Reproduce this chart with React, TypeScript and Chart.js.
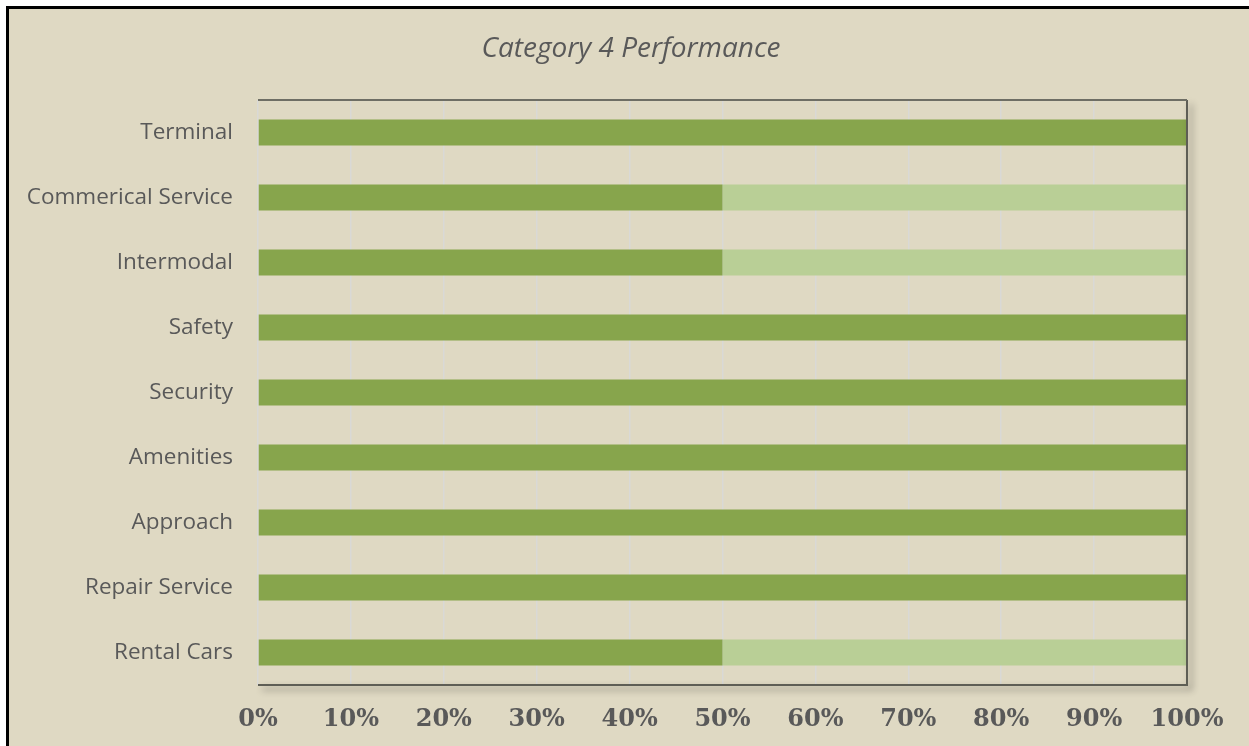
import React, { useEffect, useRef } from "react";
import { Chart, registerables } from "chart.js";
Chart.register(...registerables);

const categories = [
  "Terminal",
  "Commerical Service",
  "Intermodal",
  "Safety",
  "Security",
  "Amenities",
  "Approach",
  "Repair Service",
  "Rental Cars",
];
const metValues = [100, 50, 50, 100, 100, 100, 100, 100, 50];
const remainingValues = [0, 50, 50, 0, 0, 0, 0, 0, 50];
const titleText = "Category 4 Performance";

const W = 1249;
const H = 746;
const BG = "#dfd9c3";
const TEXT = "#595959";

export default function App() {
  const ref = useRef<HTMLCanvasElement | null>(null);
  useEffect(() => {
    if (!ref.current) return;
    const framePlugin = {
      id: "frame",
      beforeDraw(chart: any) {
        const ctx = chart.ctx;
        ctx.save();
        ctx.fillStyle = "#ffffff";
        ctx.fillRect(0, 0, W, H);
        ctx.fillStyle = BG;
        ctx.fillRect(8, 8, W, H);
        ctx.strokeStyle = "#000000";
        ctx.lineWidth = 3;
        ctx.strokeRect(7.5, 7.5, W + 20, H + 20);
        ctx.restore();
      },
      afterDatasetsDraw(chart: any) {
        const ctx = chart.ctx;
        const a = chart.chartArea;
        ctx.save();
        ctx.strokeStyle = "#5e5e55";
        ctx.lineWidth = 2;
        ctx.shadowColor = "rgba(0,0,0,0.45)";
        ctx.shadowBlur = 7;
        ctx.shadowOffsetX = 4;
        ctx.shadowOffsetY = 4;
        ctx.beginPath();
        ctx.moveTo(a.right, a.top);
        ctx.lineTo(a.right, a.bottom);
        ctx.lineTo(a.left, a.bottom);
        ctx.stroke();
        ctx.shadowColor = "transparent";
        ctx.strokeStyle = "#6e6e64";
        ctx.beginPath();
        ctx.moveTo(a.left, a.top);
        ctx.lineTo(a.right, a.top);
        ctx.stroke();
        ctx.restore();
      },
      afterDraw(chart: any) {
        const ctx = chart.ctx;
        ctx.save();
        ctx.fillStyle = TEXT;
        ctx.font = "italic 28px 'Open Sans'";
        ctx.textAlign = "center";
        ctx.textBaseline = "middle";
        ctx.fillText(titleText, 631, 49);
        ctx.restore();
      },
    };

    const chart = new Chart(ref.current, {
      type: "bar",
      data: {
        labels: categories,
        datasets: [
          {
            label: "Met",
            data: metValues,
            backgroundColor: "#87a54c",
            barPercentage: 0.4,
            categoryPercentage: 1,
          },
          {
            label: "Remaining",
            data: remainingValues,
            backgroundColor: "#b9cf96",
            barPercentage: 0.4,
            categoryPercentage: 1,
          },
        ],
      },
      options: {
        indexAxis: "y",
        responsive: false,
        animation: false,
        layout: { padding: { top: 100, right: 62, left: 0, bottom: 0 } },
        plugins: {
          legend: { display: false },
          tooltip: { enabled: false },
          title: { display: false },
        },
        scales: {
          x: {
            stacked: true,
            min: 0,
            max: 100,
            afterFit(scale: any) {
              scale.height = 61;
            },
            border: { display: false },
            grid: { color: "#d9d9d6", lineWidth: 1.5, drawTicks: false },
            ticks: {
              stepSize: 10,
              padding: 20,
              color: TEXT,
              font: { family: "'DejaVu Serif'", weight: "bold", size: 24 },
              callback: (v: any) => v + "%",
              maxRotation: 0,
            },
          },
          y: {
            stacked: true,
            afterFit(scale: any) {
              scale.width = 258;
            },
            border: { display: false },
            grid: { display: false, drawTicks: false },
            ticks: {
              padding: 25,
              color: TEXT,
              font: { family: "'Open Sans'", size: 22.5 },
            },
          },
        },
      },
      plugins: [framePlugin],
    } as any);
    return () => chart.destroy();
  }, []);
  return (
    <div style={{ position: "absolute", left: 0, top: 0, width: W, height: H }}>
      <canvas ref={ref} width={W} height={H} style={{ display: "block" }} />
    </div>
  );
}
